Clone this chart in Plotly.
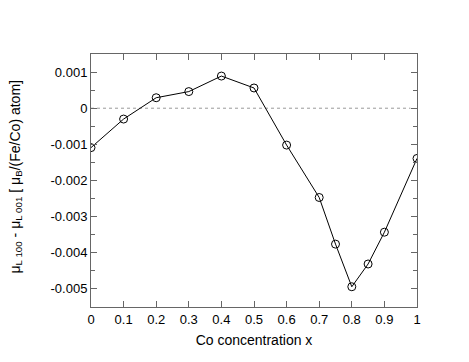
import plotly.graph_objects as go

x_vals = [0.0, 0.1, 0.2, 0.3, 0.4, 0.5, 0.6, 0.7, 0.75, 0.8, 0.85, 0.9, 1.0]
y_vals = [-0.00109, -0.00030, 0.00029, 0.00046, 0.00089, 0.00056, -0.00102,
          -0.00247, -0.00376, -0.00494, -0.00431, -0.00343, -0.00139]

x_ticks = [0, 0.1, 0.2, 0.3, 0.4, 0.5, 0.6, 0.7, 0.8, 0.9, 1]
x_labels = ["0", "0.1", "0.2", "0.3", "0.4", "0.5", "0.6", "0.7", "0.8", "0.9", "1"]
y_ticks = [0.001, 0, -0.001, -0.002, -0.003, -0.004, -0.005]
y_labels = ["0.001", "0", "-0.001", "-0.002", "-0.003", "-0.004", "-0.005"]
y_title = "μ<sub>L 100</sub> - μ<sub>L 001</sub> [ μ<sub>B</sub>/(Fe/Co) atom]"
x_title = "Co concentration x"

font = "Liberation Sans, Arial, sans-serif"

fig = go.Figure()
fig.add_trace(go.Scatter(
    x=x_vals, y=y_vals, mode="lines+markers",
    line=dict(color="black", width=1),
    marker=dict(symbol="circle-open", size=8, color="black", line=dict(width=1)),
    showlegend=False,
))
fig.add_shape(type="line", x0=0, x1=0.98, y0=0, y1=0, xref="x", yref="y",
              line=dict(color="#999999", width=1, dash="dot"), layer="below")

axis_common = dict(showgrid=False, zeroline=False, showline=True, linecolor="#666666",
                   linewidth=1, mirror="allticks", ticks="inside", ticklen=6,
                   tickcolor="#666666", tickwidth=1,
                   tickfont=dict(family=font, size=13, color="black"))

fig.update_xaxes(range=[0, 1], tickvals=x_ticks, ticktext=x_labels,
                 title=dict(text=x_title, font=dict(family=font, size=14, color="black"),
                            standoff=9),
                 **axis_common)
fig.update_yaxes(range=[-0.0055, 0.0015], tickvals=y_ticks, ticktext=y_labels,
                 minor=dict(ticks="inside", ticklen=4, dtick=0.0005, tick0=0, tickcolor="#666666"),
                 **axis_common)

fig.add_annotation(text=y_title, textangle=-90, xref="paper", yref="paper",
                   x=0, y=0.5, xanchor="center", yanchor="middle",
                   xshift=-76, yshift=3, showarrow=False,
                   font=dict(family=font, size=14, color="black"))

fig.update_layout(width=469, height=362, plot_bgcolor="white", paper_bgcolor="white",
                  margin=dict(l=91, r=52, t=54, b=55, autoexpand=False))
fig.write_html("out.html", config={"displayModeBar": False},
               post_script="document.body.style.margin='0';")
